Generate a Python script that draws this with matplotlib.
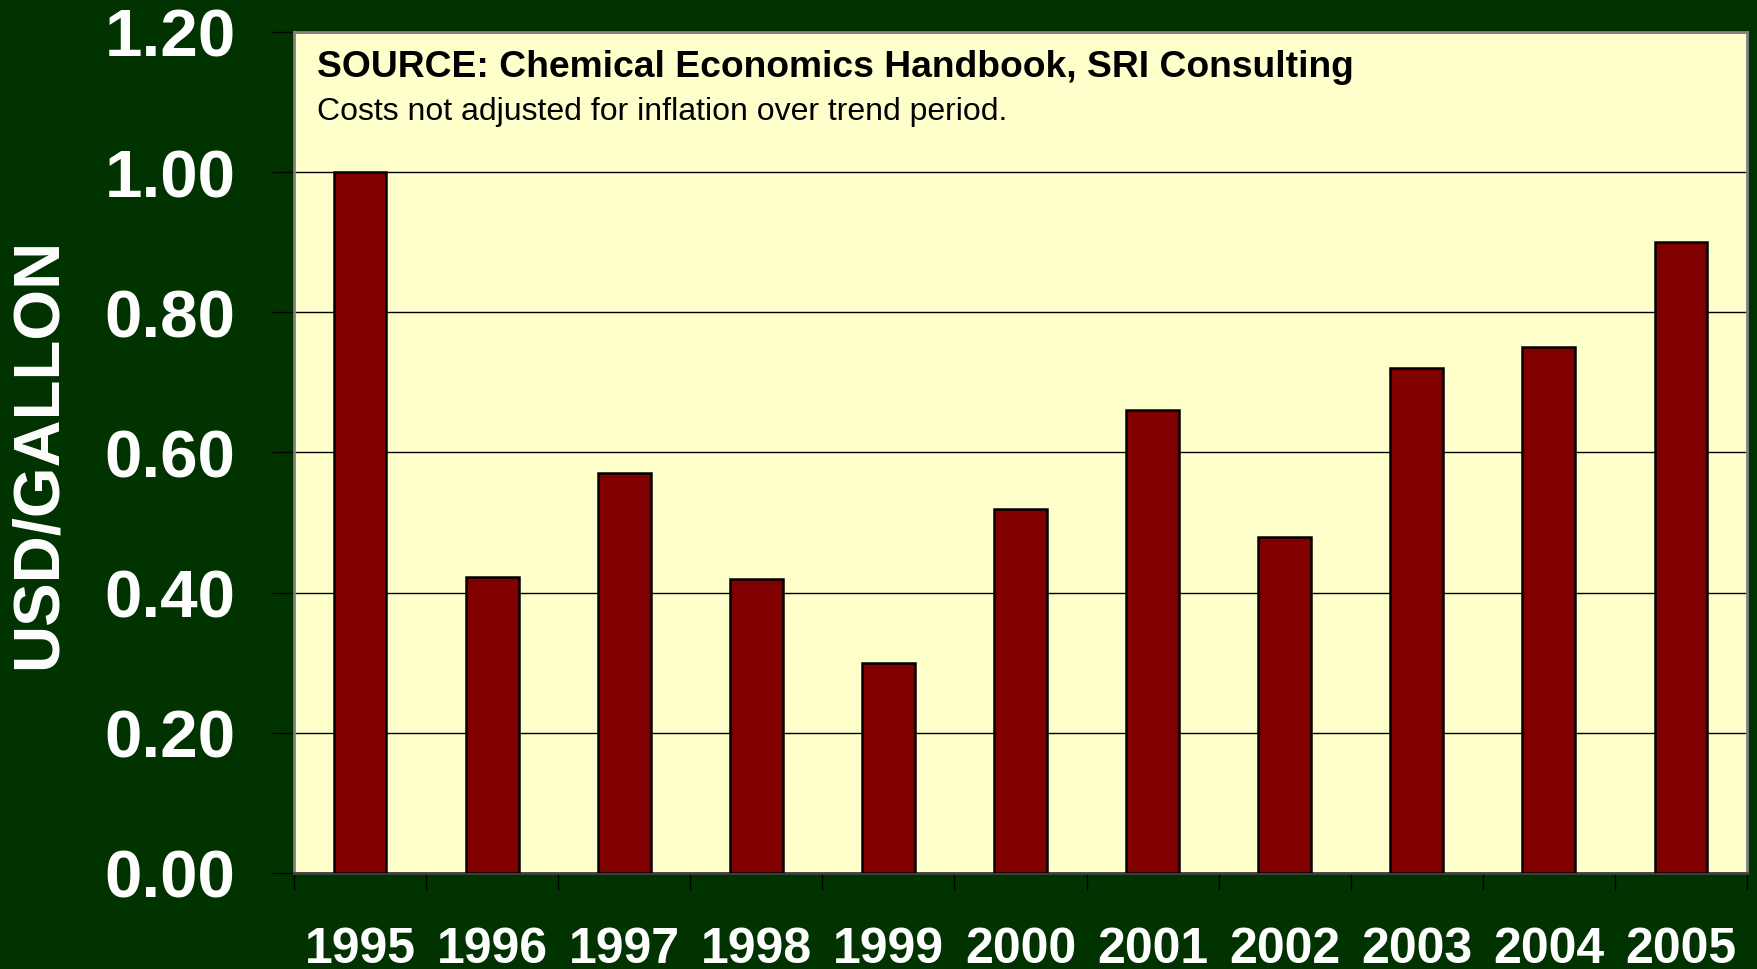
import numpy as np
import matplotlib.pyplot as plt

plt.rcParams['font.family'] = ['Liberation Sans', 'DejaVu Sans']

years = ['1995', '1996', '1997', '1998', '1999', '2000',
         '2001', '2002', '2003', '2004', '2005']
cost = [1.00, 0.423, 0.57, 0.42, 0.30, 0.52, 0.66, 0.48, 0.72, 0.75, 0.90]
yticks = [0.0, 0.2, 0.4, 0.6, 0.8, 1.0, 1.2]

bg = '#003300'
fig = plt.figure(figsize=(17.57, 9.70), dpi=100, facecolor=bg)
ax = fig.add_axes([0.1673, 0.099, 0.827, 0.867])
ax.set_facecolor('#ffffcc')

x = np.arange(len(years))
ax.bar(x, cost, width=0.4, color='#800000', edgecolor='black', linewidth=1.8, zorder=3)

ax.set_xlim(-0.5, len(years) - 0.5)
ax.set_ylim(0, 1.2)

# horizontal grid lines
ax.set_yticks(yticks)
ax.set_yticklabels(['%.2f' % v for v in yticks])
ax.grid(axis='y', color='black', linewidth=1, zorder=1)

# ticks at category boundaries, labels at centres
ax.set_xticks(np.arange(-0.5, len(years), 1.0))
ax.set_xticklabels([])
ax.set_xticks(x, minor=True)
ax.set_xticklabels(years, minor=True)
ax.tick_params(axis='x', which='major', length=12, width=1, color='black', direction='out')
ax.tick_params(axis='x', which='minor', length=0, pad=38, labelsize=36, labelcolor='white')
ax.tick_params(axis='y', length=16, width=1, color='black', direction='out', pad=26,
               labelsize=48.5, labelcolor='white')
for lab in ax.get_xticklabels(minor=True) + ax.get_yticklabels():
    lab.set_fontweight('bold')

for side in ['top', 'right', 'left']:
    ax.spines[side].set_color('#808080')
    ax.spines[side].set_linewidth(2)
ax.spines['bottom'].set_color('#404040')
ax.spines['bottom'].set_linewidth(2)

ax.set_ylabel('USD/GALLON', fontsize=47, fontweight='bold', color='white')
ax.yaxis.set_label_coords(-0.155, 0.5)

ax.text(0.016, 0.959, 'SOURCE: Chemical Economics Handbook, SRI Consulting',
        transform=ax.transAxes, fontsize=26.8, fontweight='bold', color='black', va='center')
ax.text(0.016, 0.906, 'Costs not adjusted for inflation over trend period.',
        transform=ax.transAxes, fontsize=23, color='black', va='center')

fig.savefig('out.png', dpi=100, facecolor=bg)
